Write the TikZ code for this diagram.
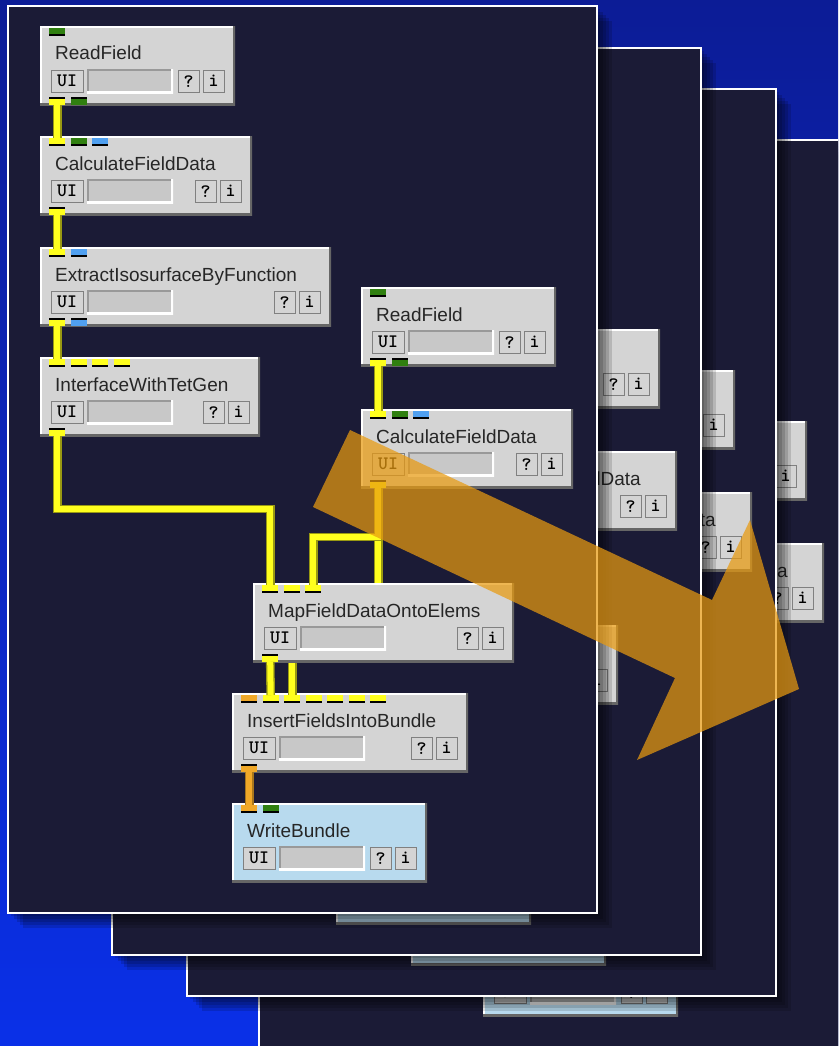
\documentclass[tikz,border=0pt]{standalone}
\usepackage{fontspec}
\usepackage{tikz}
\newfontfamily\titlefont{Liberation Sans}
\definecolor{bgtop}{RGB}{12,28,150}
\definecolor{bgbot}{RGB}{10,48,232}
\definecolor{navy}{RGB}{27,27,54}
\definecolor{modgray}{RGB}{212,212,212}
\definecolor{entrygray}{RGB}{200,200,200}
\definecolor{wbblue}{RGB}{184,218,238}
\definecolor{pyellow}{RGB}{255,255,30}
\definecolor{pgreen}{RGB}{48,128,16}
\definecolor{pblue}{RGB}{80,160,240}
\definecolor{porange}{RGB}{240,168,40}
\definecolor{arrowc}{RGB}{232,154,16}
\newcommand{\module}[7]{%
\begin{scope}[shift={(#2)}]
\node[modbox,fill=#7,minimum width=#3pt] (#1) at (0,0) {};
\node[modtitle] (#1-t) at (15,34) {#4};
\node[button,minimum width=32pt] (#1-ui) at (11,44) {UI};
\node[entry] (#1-e) at (47,43) {};
\node[button] (#1-q) at (#3-57,44) {?};
\node[button] (#1-inf) at (#3-32,44) {i};
\foreach \c [count=\k] in {#5} {\node[port,fill=\c] (#1-i\k) at ({9+(\k-1)*21.5},2) {};\fill (#1-i\k.south west) rectangle ([yshift=2pt]#1-i\k.south east);}
\if\relax\detokenize{#6}\relax\else\foreach \c [count=\k] in {#6} {\node[port,fill=\c,anchor=south west] (#1-o\k) at ({9+(\k-1)*21.5},79) {};\fill (#1-o\k.north west) rectangle ([yshift=-2pt]#1-o\k.north east);}\fi
\end{scope}}
\newcommand{\network}{%
\module{rf1}{40,26}{195}{ReadField}{pgreen}{pyellow,pgreen}{modgray}
\module{cfd1}{40,136}{212}{CalculateFieldData}{pyellow,pgreen,pblue}{pyellow}{modgray}
\module{eibf}{40,247}{291}{ExtractIsosurfaceByFunction}{pyellow,pblue}{pyellow,pblue}{modgray}
\module{iwtg}{40,357}{220}{InterfaceWithTetGen}{pyellow,pyellow,pyellow,pyellow}{pyellow}{modgray}
\module{rf2}{361,287}{195}{ReadField}{pgreen}{pyellow,pgreen}{modgray}
\module{cfd2}{361,409}{212}{CalculateFieldData}{pyellow,pgreen,pblue}{pyellow}{modgray}
\module{ifib}{232,693}{236}{InsertFieldsIntoBundle}{porange,pyellow,pyellow,pyellow,pyellow,pyellow,pyellow}{porange}{modgray}
\module{wb}{232,803}{195}{WriteBundle}{porange,pgreen}{}{wbblue}
\draw[pipe] (cfd2-o1.south) -- ++(0,130) -| (ifib-i3.north);
\module{mfde}{253,583}{261}{MapFieldDataOntoElems}{pyellow,pyellow,pyellow}{pyellow}{modgray}
\draw[pipe] (rf1-o1.south) -- (cfd1-i1.north);\draw[pipe] (cfd1-o1.south) -- (eibf-i1.north);\draw[pipe] (eibf-o1.south) -- (iwtg-i1.north);
\draw[pipe] (iwtg-o1.south) -- ++(0,73) -| (mfde-i1.north);\draw[pipe] (rf2-o1.south) -- (cfd2-i1.north);\draw[pipe] (cfd2-o1.south) -- ++(0,49) -| (mfde-i3.north);
\draw[pipe] (mfde-o1.south) -- (ifib-i2.north);\draw[pipe,draw=porange!70!black,double=porange] (ifib-o1.south) -- (wb-i1.north);}
\newcommand{\panel}[4]{%
\foreach \s in {3,6,9,12,15} \fill[black,opacity=.14] ([shift={(\s,\s)}]#1) rectangle ([shift={(\s,\s)}]#2);
\fill[navy] (#1) rectangle (#2);
\begin{scope}\clip (#1) rectangle (#2);
\begin{scope}[shift={(#3)},name prefix=#4]\network\end{scope}
\end{scope}
\draw[white,line width=2.5pt] (#1) rectangle (#2);}

\begin{document}
\begin{tikzpicture}[x=1pt,y=-1pt,bevel/.style n args={3}{path picture={\draw[#1,line width=#3] (path picture bounding box.south west) |- (path picture bounding box.north east);\draw[#2,line width=#3] (path picture bounding box.north east) |- (path picture bounding box.south west);}},modbox/.style={anchor=north west,minimum height=79pt,inner sep=0,bevel={white}{gray!80!black}{4pt}},modtitle/.style={anchor=base west,inner sep=0,text=black!85,font=\titlefont\fontsize{19}{19}\selectfont},button/.style={anchor=north west,minimum width=21pt,minimum height=22pt,inner sep=0,fill=modgray,draw=gray,bevel={white}{modgray}{2.5pt},font=\ttfamily\bfseries\fontsize{19}{19}\selectfont},entry/.style={anchor=north west,minimum width=86pt,minimum height=24pt,inner sep=0,fill=entrygray,bevel={gray!80}{white}{4pt}},port/.style={anchor=north west,minimum width=16pt,minimum height=8pt,inner sep=0},pipe/.style={draw=pyellow!60!black,double=pyellow,double distance=6pt,line width=1.3pt}]
\useasboundingbox (0,0) rectangle (838,1046);
\clip (0,0) rectangle (838,1046);
\shade[top color=bgtop,bottom color=bgbot] (0,0) rectangle (838,1046);
\panel{259,140}{900,1100}{251,134}{d-}
\panel{187,89}{776,996}{179,83}{c-}
\panel{112,48}{701,955}{104,42}{b-}
\panel{8,6}{597,913}{0,0}{a-}
\fill[arrowc,opacity=.72] (350,430) -- (712,600) -- (750,520) -- (799,689) -- (637,760) -- (675,678) -- (313,507) -- cycle;
\end{tikzpicture}
\end{document}
